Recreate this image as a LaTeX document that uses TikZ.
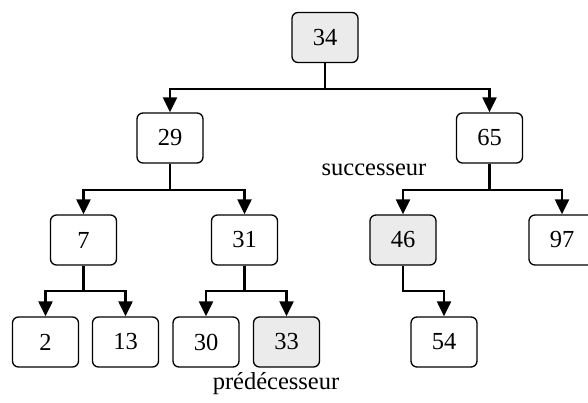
\documentclass[tikz,border=0pt]{standalone}
\usepackage{fontspec}
\setmainfont{Liberation Serif}
\usepackage{tikz}
\usetikzlibrary{arrows.meta,positioning}
\definecolor{KeyMark}{HTML}{EBEBEB}

\begin{document}
\begin{tikzpicture}[x=1pt, y=-1pt,
  key/.style={draw, rounded corners=6pt, line width=1.3pt, fill=white,
    minimum width=66pt, minimum height=50pt, font=\fontsize{24.5}{28}\selectfont},
  marked/.style={key, fill=KeyMark},
  link/.style={line width=2.2pt, -{Triangle[length=15pt,width=14pt]}},
  tag/.style={font=\fontsize{24.5}{28}\selectfont}]
  \useasboundingbox (0,0) rectangle (588,403);
  % levels of the tree
  \node[marked] (n34) at (325,37.5) {34};
  \node[key] (n29) at (170,138) {29};
  \node[key] (n65) at (489.5,138) {65};
  \node[key] (n7) at (83.5,240) {7};
  \node[key] (n31) at (244.5,240) {31};
  \node[marked] (n46) at (403,240) {46};
  \node[key] (n97) at (562,240) {97};
  \node[key] (n2) at (45.5,342) {2};
  \node[key] (n13) at (125.5,342) {13};
  \node[key] (n30) at (206,342) {30};
  \node[marked] (n33) at (286.5,342) {33};
  \node[key] (n54) at (444,342) {54};
  \node[tag] (succ) at (374,170) {successeur};
  \node[tag] (pred) at (276,384) {prédécesseur};
  % connectors
  \draw[link] (n34.south) -- ++(0,26) -| (n29.north);
  \draw[link] (n34.south) -- ++(0,26) -| (n65.north);
  \draw[link] (n29.south) -- ++(0,26) -| (n7.north);
  \draw[link] (n29.south) -- ++(0,26) -| (n31.north);
  \draw[link] (n65.south) -- ++(0,26) -| (n46.north);
  \draw[link] (n65.south) -- ++(0,26) -| (n97.north);
  \draw[link] (n7.south) -- ++(0,25) -| (n2.north);
  \draw[link] (n7.south) -- ++(0,25) -| (n13.north);
  \draw[link] (n31.south) -- ++(0,25) -| (n30.north);
  \draw[link] (n31.south) -- ++(0,25) -| (n33.north);
  \draw[link] (n46.south) -- ++(0,25) -| (n54.north);
\end{tikzpicture}
\end{document}
